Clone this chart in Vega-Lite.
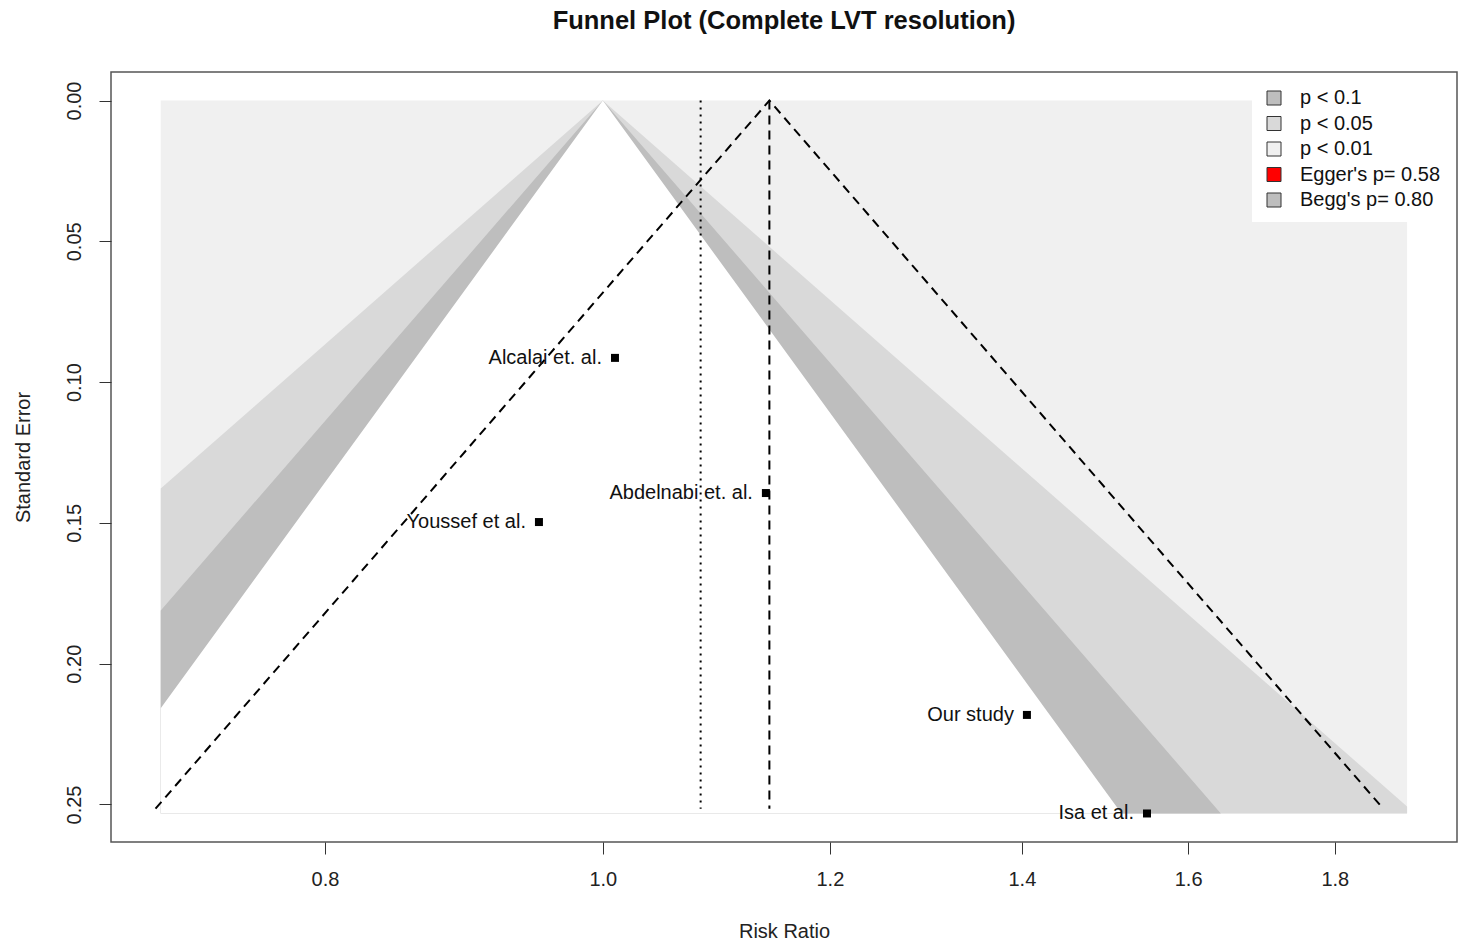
{
  "$schema": "https://vega.github.io/schema/vega-lite/v6.json",
  "autosize": {"type": "none"},
  "width": 1346,
  "height": 770,
  "padding": {"left": 111, "top": 72, "right": 1, "bottom": 101},
  "background": "white",
  "title": {"text": "Funnel Plot (Complete LVT resolution)", "fontSize": 25.5, "fontWeight": "bold", "font": "Liberation Sans", "anchor": "middle", "frame": "group", "baseline": "alphabetic", "offset": 18, "color": "#111"},
  "config": {
    "view": {"stroke": "#555", "strokeWidth": 1.5},
    "axis": {"domain": false, "grid": false, "tickColor": "#333", "tickWidth": 1, "tickSize": 12, "labelColor": "#222", "titleColor": "#222", "labelFont": "Liberation Sans", "titleFont": "Liberation Sans", "labelFontSize": 20, "titleFontSize": 20, "titleFontWeight": "normal", "labelOverlap": false, "labelFlush": false}
  },
  "datasets": {
    "bg": [
      {"band": "p < 0.01", "se": 0, "rr": 0.70118, "rr2": 1.9075},
      {"band": "p < 0.01", "se": 0.2532, "rr": 0.70118, "rr2": 1.9075}
    ],
    "c99": [
      {"band": "p < 0.05", "se": 0, "rr": 1, "rr2": 1},
      {"band": "p < 0.05", "se": 0.13781, "rr": 0.70118, "rr2": 1.4261},
      {"band": "p < 0.05", "se": 0.25072, "rr": 0.70118, "rr2": 1.9075},
      {"band": "p < 0.05", "se": 0.2532, "rr": 0.70118, "rr2": 1.9075}
    ],
    "c95": [
      {"band": "p < 0.1", "se": 0, "rr": 1, "rr2": 1},
      {"band": "p < 0.1", "se": 0.18111, "rr": 0.70118, "rr2": 1.4261},
      {"band": "p < 0.1", "se": 0.2532, "rr": 0.70118, "rr2": 1.64257}
    ],
    "c90": [
      {"se": 0, "rr": 1, "rr2": 1},
      {"se": 0.2158, "rr": 0.70118, "rr2": 1.4261},
      {"se": 0.2532, "rr": 0.70118, "rr2": 1.51663}
    ],
    "funnel": [
      {"rr": 0.69826, "se": 0.2515},
      {"rr": 1.1431, "se": 0},
      {"rr": 1.87138, "se": 0.2515}
    ],
    "pooled": [{"rr": 1.1431, "se": 0, "se2": 0.2515}],
    "dotted": [{"rr": 1.0817, "se": 0, "se2": 0.2515}],
    "studies": [
      {"study": "Alcalai et. al.", "rr": 1.0098, "se": 0.0914},
      {"study": "Abdelnabi et. al.", "rr": 1.1399, "se": 0.1394},
      {"study": "Youssef et al.", "rr": 0.95, "se": 0.1497},
      {"study": "Our study", "rr": 1.4057, "se": 0.2182},
      {"study": "Isa et al.", "rr": 1.548, "se": 0.2532}
    ]
  },
  "encoding": {
    "x": {"field": "rr", "type": "quantitative", "title": "Risk Ratio",
      "scale": {"type": "log", "domain": [0.67373, 1.98552], "nice": false, "zero": false},
      "axis": {"values": [0.8, 1, 1.2, 1.4, 1.6, 1.8], "format": ".1f", "labelPadding": 15, "titleY": 95, "titleBaseline": "alphabetic"}},
    "y": {"field": "se", "type": "quantitative", "title": "Standard Error",
      "scale": {"domain": [-0.010128, 0.263328], "reverse": true, "nice": false, "zero": false},
      "axis": {"values": [0, 0.05, 0.1, 0.15, 0.2, 0.25], "format": ".2f", "labelAngle": -90, "labelAlign": "center", "labelBaseline": "alphabetic", "labelPadding": 19, "titleX": -82, "titleAngle": -90, "titleAlign": "center", "titleBaseline": "alphabetic"}}
  },
  "layer": [
    {
      "data": {"name": "bg"},
      "mark": {"type": "area", "orient": "horizontal", "opacity": 1},
      "encoding": {
        "x2": {"field": "rr2"},
        "color": {"field": "band", "type": "nominal",
          "scale": {"domain": ["p < 0.1", "p < 0.05", "p < 0.01", "Egger's p= 0.58", "Begg's p= 0.80"], "range": ["#bebebe", "#d9d9d9", "#f0f0f0", "#ff0000", "#bebebe"]},
          "legend": {"title": null, "orient": "none", "legendX": 1141, "legendY": 4, "direction": "vertical", "symbolType": "square", "symbolSize": 196, "symbolOpacity": 1, "symbolStrokeColor": "#333", "symbolStrokeWidth": 1, "labelFontSize": 20, "labelFont": "Liberation Sans", "labelColor": "#111", "fillColor": "white", "padding": 12, "rowPadding": 5.5, "labelOffset": 16,
            "encode": {"symbols": {"update": {"stroke": {"value": "#333"}, "strokeWidth": {"value": 1}, "opacity": {"value": 1}}}}}}
      }
    },
    {
      "data": {"name": "c99"},
      "mark": {"type": "area", "orient": "horizontal", "opacity": 1},
      "encoding": {
        "x2": {"field": "rr2"},
        "color": {"field": "band", "type": "nominal",
          "scale": {"domain": ["p < 0.1", "p < 0.05", "p < 0.01", "Egger's p= 0.58", "Begg's p= 0.80"], "range": ["#bebebe", "#d9d9d9", "#f0f0f0", "#ff0000", "#bebebe"]}}
      }
    },
    {
      "data": {"name": "c95"},
      "mark": {"type": "area", "orient": "horizontal", "opacity": 1},
      "encoding": {
        "x2": {"field": "rr2"},
        "color": {"field": "band", "type": "nominal",
          "scale": {"domain": ["p < 0.1", "p < 0.05", "p < 0.01", "Egger's p= 0.58", "Begg's p= 0.80"], "range": ["#bebebe", "#d9d9d9", "#f0f0f0", "#ff0000", "#bebebe"]}}
      }
    },
    {
      "data": {"name": "c90"},
      "mark": {"type": "area", "orient": "horizontal", "opacity": 1, "color": "white"},
      "encoding": {"x2": {"field": "rr2"}}
    },
    {
      "data": {"name": "dotted"},
      "mark": {"type": "rule", "color": "black", "strokeWidth": 2, "strokeDash": [2, 5]},
      "encoding": {"y2": {"field": "se2"}}
    },
    {
      "data": {"name": "pooled"},
      "mark": {"type": "rule", "color": "black", "strokeWidth": 2, "strokeDash": [9, 6]},
      "encoding": {"y2": {"field": "se2"}}
    },
    {
      "data": {"name": "funnel"},
      "mark": {"type": "line", "color": "black", "strokeWidth": 2, "strokeDash": [9, 6]},
      "encoding": {}
    },
    {
      "data": {"name": "studies"},
      "mark": {"type": "point", "shape": "square", "filled": true, "size": 64, "color": "black", "opacity": 1},
      "encoding": {}
    },
    {
      "data": {"name": "studies"},
      "mark": {"type": "text", "align": "right", "baseline": "middle", "dx": -13, "fontSize": 20, "font": "Liberation Sans", "color": "#111"},
      "encoding": {"text": {"field": "study", "type": "nominal"}}
    }
  ]
}
